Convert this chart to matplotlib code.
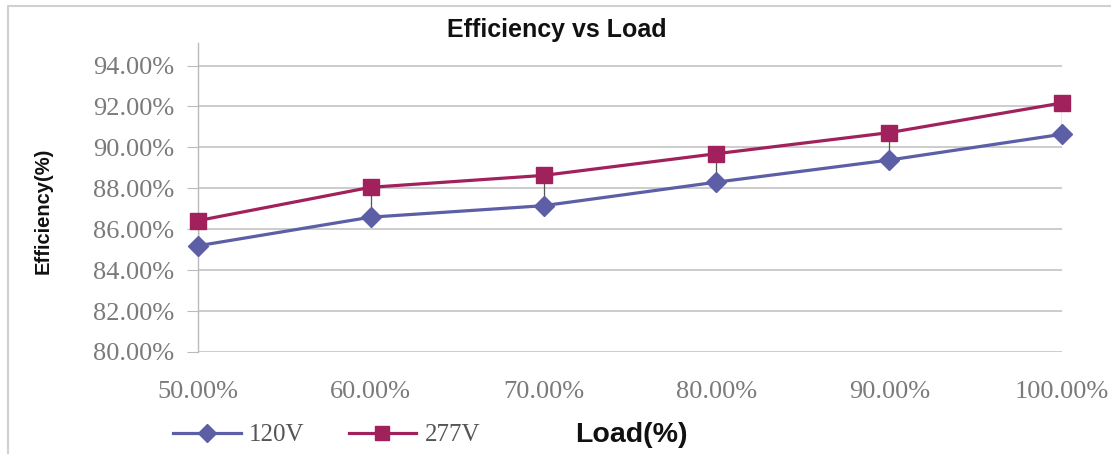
import matplotlib
matplotlib.use('Agg')
import matplotlib.pyplot as plt
from matplotlib.lines import Line2D
from matplotlib.ticker import FuncFormatter

# ---------------------------------------------------------
# Data
# ---------------------------------------------------------
load_pct = [50, 60, 70, 80, 90, 100]
eff_120v = [85.19, 86.59, 87.15, 88.30, 89.38, 90.64]
eff_277v = [86.42, 88.05, 88.63, 89.69, 90.72, 92.17]
y_ticks = [80, 82, 84, 86, 88, 90, 92, 94]
series_names = ['120V', '277V']

W, H = 1111, 454
fig = plt.figure(figsize=(W / 100, H / 100), dpi=100)
ax = fig.add_axes([198 / W, 1 - 352 / H, (1062 - 198) / W, (352 - 43) / H])

blue = '#5c5ea6'
red = '#a0215c'
serif = 'Liberation Serif'
sans = 'Liberation Sans'

# high-low lines between the two series
ax.vlines(load_pct, eff_120v, eff_277v, color='#555555', lw=0.9, zorder=2)

ax.plot(load_pct, eff_120v, color=blue, lw=2.3, marker='D', ms=10,
        mfc=blue, mec=blue, label=series_names[0], zorder=3, clip_on=False)
ax.plot(load_pct, eff_277v, color=red, lw=2.3, marker='s', ms=11,
        mfc=red, mec=red, label=series_names[1], zorder=4, clip_on=False)

ax.set_xlim(50, 100)
ax.set_ylim(80, 95.1)
ax.set_yticks(y_ticks)
ax.set_xticks(load_pct)
ax.yaxis.set_major_formatter(FuncFormatter(lambda v, p: f'{v:.2f}%'))
ax.xaxis.set_major_formatter(FuncFormatter(lambda v, p: f'{v:.2f}%'))
ax.grid(axis='y', color='#c8c8c8', lw=1.3)
ax.set_axisbelow(True)

for s in ['top', 'right', 'bottom']:
    ax.spines[s].set_visible(False)
ax.spines['left'].set_color('#bbbbbb')
ax.spines['left'].set_linewidth(1.0)

ax.tick_params(axis='y', length=8, color='#bbbbbb', pad=9,
               labelsize=19, labelcolor='#7a7a7a')
ax.tick_params(axis='x', length=0, pad=21, labelsize=19, labelcolor='#7a7a7a')
for lab in ax.get_xticklabels() + ax.get_yticklabels():
    lab.set_fontfamily(serif)

fig.text(557 / W, 1 - 30 / H, 'Efficiency vs Load', ha='center', va='center',
         fontsize=18, fontweight='bold', family=sans, color='#111111')
fig.text(43 / W, 1 - 211 / H, 'Efficiency(%)', ha='center', va='center',
         rotation=90, fontsize=14.5, fontweight='bold', family=sans, color='#111111')
fig.text(631 / W, 1 - 435 / H, 'Load(%)', ha='center', va='center',
         fontsize=20.5, fontweight='bold', family=sans, color='#111111')

leg = fig.legend(loc='center left', bbox_to_anchor=(173 / W, 1 - 435 / H),
                 ncol=2, frameon=False, handlelength=2.7, handletextpad=0.35,
                 columnspacing=1.75, prop={'family': serif, 'size': 18},
                 borderaxespad=0, borderpad=0, markerscale=0.9)
for t in leg.get_texts():
    t.set_color('#555555')

# chart border (left and top edges visible in the original)
fig.add_artist(Line2D([8 / W, 8 / W, 1.0], [0.0, 1 - 6 / H, 1 - 6 / H],
                      transform=fig.transFigure, color='#d0d0d0', lw=1.5))

fig.savefig('out.png', dpi=100)
